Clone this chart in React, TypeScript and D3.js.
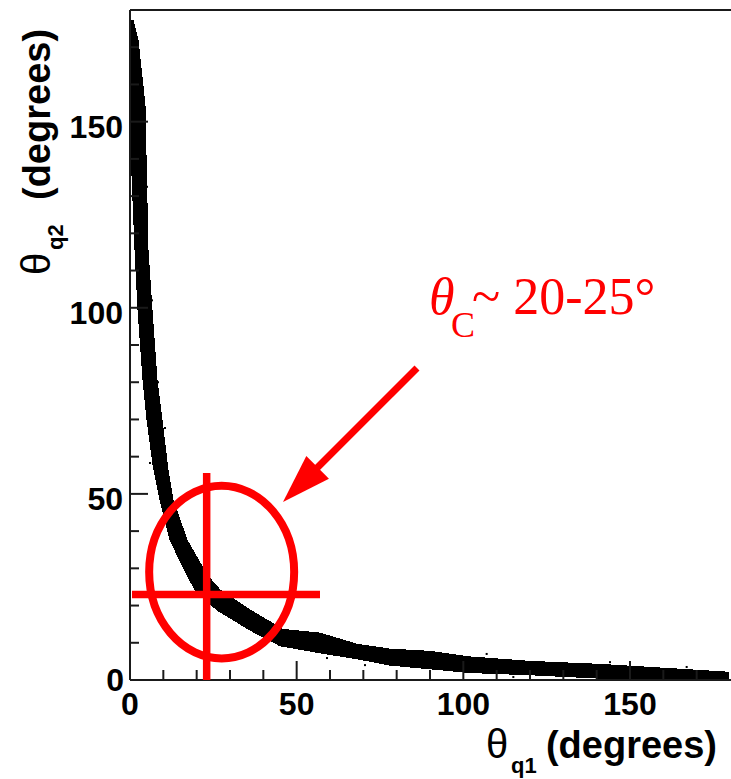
import React from "react";
import * as d3 from "d3";

// Axis ranges and tick values (degrees)
const X_DOMAIN = [0, 180];
const Y_DOMAIN = [0, 180];
const MAJOR_TICKS = [0, 50, 100, 150];
const MINOR_TICKS = [10, 20, 30, 40, 60, 70, 80, 90, 110, 120, 130, 140, 160, 170];

// Upper/right edge of the populated band: [theta_q1, theta_q2]
const BAND_OUTER: [number, number][] = [
  [0.9, 177.3], [2.4, 172], [4.5, 154.5], [5.4, 115.5], [6.6, 99.4],
  [8.1, 80.6], [9.6, 69.9], [11.4, 56.4], [12.9, 48.4], [17.1, 37.6],
  [23.1, 28.2], [27, 24.2], [36, 18.8], [45.9, 13.6], [57, 12.6],
  [68.1, 9.6], [78, 8.3], [90, 7.7], [102, 6.2], [120, 5.0],
  [141, 4.2], [165, 2.9], [179.4, 2.1],
];

// Lower/left edge of the populated band: [theta_q1, theta_q2]
const BAND_INNER: [number, number][] = [
  [0, 177], [0.3, 142], [1.5, 115.5], [2.4, 99.4], [3.9, 80.6],
  [5.1, 69.9], [6.9, 57.8], [9, 48.4], [12, 37.6], [17.1, 28.2],
  [19.5, 24.2], [26.1, 18.8], [36, 13.4], [45, 9.2], [57, 7.3],
  [68.1, 5.7], [78, 4.0], [90, 3.0], [102, 2.0], [120, 1.4],
  [141, 0.5], [179.4, 0.3],
];

// Isolated events outside the dense band
const STRAY_EVENTS: [number, number][] = [
  [0.9, 176.5], [3.0, 166], [5.1, 132.5], [6.6, 102], [8.4, 80],
  [10.5, 67.7], [6.0, 58.3], [59.1, 5.9], [70.5, 4.0], [107, 7.0],
  [115, 0.8], [144, 4.8], [167, 3.5], [178, 1.9],
];

// Annotation: critical angle marker
const THETA_C = 23;
const ELLIPSE_CENTER: [number, number] = [27.5, 29];
const ELLIPSE_RADII: [number, number] = [21.75, 23.2];
const CROSS_X_SPAN: [number, number] = [0.6, 57];
const CROSS_Y_SPAN: [number, number] = [0, 55.6];
const ARROW_FROM: [number, number] = [86.1, 83.8];
const ARROW_TO: [number, number] = [45.9, 47.8];

const W = 731;
const H = 779;
const AXIS_COLOR = "#1a1a1a";
const RED = "#ff0000";
const SANS = "'Liberation Sans', Arial, Helvetica, sans-serif";
const SERIF = "'Liberation Serif', 'Times New Roman', serif";

export default function App() {
  const x = d3.scaleLinear().domain(X_DOMAIN).range([130, 730]);
  const y = d3.scaleLinear().domain(Y_DOMAIN).range([680, 10]);

  const ring = [...BAND_OUTER, ...BAND_INNER.slice().reverse()];
  const bandPath = d3
    .line<[number, number]>()
    .x((d) => x(d[0]))
    .y((d) => y(d[1]))(ring) + "Z";

  const x0 = x(0);
  const y0 = y(0);

  // arrow geometry
  const ax1 = x(ARROW_FROM[0]);
  const ay1 = y(ARROW_FROM[1]);
  const ax2 = x(ARROW_TO[0]);
  const ay2 = y(ARROW_TO[1]);
  const len = Math.hypot(ax2 - ax1, ay2 - ay1);
  const ux = (ax2 - ax1) / len;
  const uy = (ay2 - ay1) / len;
  const headLen = 49;
  const headHalf = 16;
  const bx = ax2 - ux * headLen;
  const by = ay2 - uy * headLen;
  const head = [
    [ax2, ay2],
    [bx - uy * headHalf, by + ux * headHalf],
    [bx + uy * headHalf, by - ux * headHalf],
  ]
    .map((p) => p.join(","))
    .join(" ");

  return (
    <svg
      width={W}
      height={H}
      viewBox={`0 0 ${W} ${H}`}
      style={{ position: "absolute", left: 0, top: 0, background: "#fff" }}
    >
      {/* scatter band */}
      <path d={bandPath} fill="#000" stroke="#000" strokeWidth={1} shapeRendering="crispEdges" />
      {STRAY_EVENTS.map((d, i) => (
        <rect key={i} x={x(d[0]) - 1} y={y(d[1]) - 1} width={2} height={2} fill="#000" />
      ))}

      {/* frame */}
      <line x1={x0} x2={x0} y1={y(180)} y2={y0} stroke={AXIS_COLOR} strokeWidth={2} />
      <line x1={x0} x2={W} y1={y0} y2={y0} stroke={AXIS_COLOR} strokeWidth={2} />
      <line x1={x0} x2={W} y1={y(180)} y2={y(180)} stroke={AXIS_COLOR} strokeWidth={2} />

      {/* x ticks */}
      {MAJOR_TICKS.filter((t) => t > 0).map((t) => (
        <line key={"xm" + t} x1={x(t)} x2={x(t)} y1={y0} y2={y0 - 19} stroke={AXIS_COLOR} strokeWidth={2} />
      ))}
      {MINOR_TICKS.map((t) => (
        <line key={"xn" + t} x1={x(t)} x2={x(t)} y1={y0} y2={y0 - 10} stroke={AXIS_COLOR} strokeWidth={2} />
      ))}
      {/* y ticks */}
      {MAJOR_TICKS.filter((t) => t > 0).map((t) => (
        <line key={"ym" + t} x1={x0} x2={x0 + 18} y1={y(t)} y2={y(t)} stroke={AXIS_COLOR} strokeWidth={2} />
      ))}
      {MINOR_TICKS.map((t) => (
        <line key={"yn" + t} x1={x0} x2={x0 + 9} y1={y(t)} y2={y(t)} stroke={AXIS_COLOR} strokeWidth={2} />
      ))}

      {/* tick labels */}
      {MAJOR_TICKS.map((t) => (
        <text
          key={"xl" + t}
          x={x(t)}
          y={715}
          textAnchor="middle"
          fontFamily={SANS}
          fontWeight="bold"
          fontSize={32}
          fill="#000"
        >
          {t}
        </text>
      ))}
      {MAJOR_TICKS.map((t) => (
        <text
          key={"yl" + t}
          x={t === 0 ? 124 : 123}
          y={t === 0 ? 691 : y(t) + 16}
          textAnchor="end"
          fontFamily={SANS}
          fontWeight="bold"
          fontSize={32}
          fill="#000"
        >
          {t}
        </text>
      ))}

      {/* x axis title */}
      <text x={486} y={758} fontFamily={SANS} fontSize={40} fill="#000">θ</text>
      <text x={511} y={773} fontFamily={SANS} fontWeight="bold" fontSize={22} fill="#000">q1</text>
      <text x={717} y={758} textAnchor="end" fontFamily={SANS} fontWeight="bold" fontSize={38} fill="#000">
        (degrees)
      </text>

      {/* y axis title */}
      <text transform="translate(50,275) rotate(-90)" fontFamily={SANS} fontSize={40} fill="#000">θ</text>
      <text transform="translate(63,250) rotate(-90)" fontFamily={SANS} fontWeight="bold" fontSize={22} fill="#000">
        q2
      </text>
      <text transform="translate(50,200) rotate(-90)" fontFamily={SANS} fontWeight="bold" fontSize={38} fill="#000">
        (degrees)
      </text>

      {/* critical-angle annotation */}
      <ellipse
        cx={x(ELLIPSE_CENTER[0])}
        cy={y(ELLIPSE_CENTER[1])}
        rx={x(ELLIPSE_RADII[0]) - x(0)}
        ry={y(0) - y(ELLIPSE_RADII[1])}
        fill="none"
        stroke={RED}
        strokeWidth={8}
      />
      <line
        x1={x(THETA_C)}
        x2={x(THETA_C)}
        y1={y(CROSS_Y_SPAN[1])}
        y2={y(CROSS_Y_SPAN[0])}
        stroke={RED}
        strokeWidth={7.5}
      />
      <line
        x1={x(CROSS_X_SPAN[0])}
        x2={x(CROSS_X_SPAN[1])}
        y1={y(THETA_C)}
        y2={y(THETA_C)}
        stroke={RED}
        strokeWidth={7.5}
      />
      <line x1={ax1} y1={ay1} x2={bx + ux * 2} y2={by + uy * 2} stroke={RED} strokeWidth={7} />
      <polygon points={head} fill={RED} />

      <text x={429} y={314} fontFamily={SERIF} fontStyle="italic" fontSize={52} fill={RED}>θ</text>
      <text x={451} y={337} fontFamily={SERIF} fontSize={36} fill={RED}>C</text>
      <text x={472} y={314} fontFamily={SERIF} fontSize={52} fill={RED}>~ 20-25°</text>
    </svg>
  );
}
